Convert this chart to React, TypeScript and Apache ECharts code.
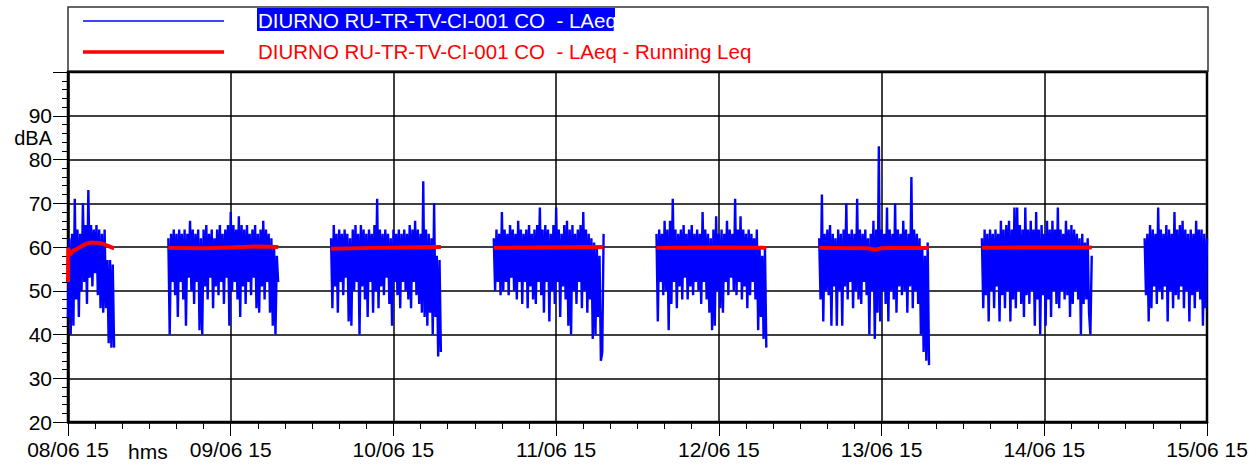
import React, { useEffect, useRef } from "react";
import * as echarts from "echarts";

// ---- Data (hours from 08/06 15 label; sample step 0.2 h) ----
const dayLabels = ["08/06 15", "09/06 15", "10/06 15", "11/06 15", "12/06 15", "13/06 15", "14/06 15", "15/06 15"];
const yTicks = [20, 30, 40, 50, 60, 70, 80, 90];
const sampleStepH = 0.2;
const segStarts = [0, 14.8, 38.8, 62.8, 86.8, 110.8, 134.8, 158.8];

const laeqDay1 = [44, 62, 40, 63, 42, 71, 48, 64, 44, 63, 50, 70, 52, 65, 47, 73, 53, 65, 51, 64, 54, 65, 49, 64, 46, 63, 45, 64, 46, 57, 38, 57, 37, 56, 37];
const laeqDay2 = [62, 40, 63, 52, 64, 49, 63, 44, 64, 52, 63, 48, 64, 42, 63, 53, 66, 50, 64, 47, 63, 52, 64, 41, 62, 40, 64, 51, 65, 48, 63, 53, 64, 46, 62, 51, 64, 49, 65, 52, 63, 47, 64, 53, 65, 42, 68, 50, 65, 52, 64, 48, 67, 44, 65, 51, 64, 47, 65, 52, 63, 49, 64, 53, 65, 46, 63, 45, 64, 51, 66, 48, 64, 52, 63, 45, 62, 42, 60, 40, 58, 52];
const laeqDay3 = [62, 46, 65, 51, 63, 45, 64, 52, 63, 49, 64, 53, 63, 43, 62, 42, 64, 50, 65, 52, 63, 40, 65, 51, 64, 48, 63, 44, 64, 52, 63, 45, 65, 50, 71, 46, 64, 51, 63, 49, 64, 53, 63, 47, 62, 42, 64, 52, 63, 49, 64, 46, 63, 52, 64, 50, 63, 48, 65, 46, 64, 52, 66, 49, 64, 47, 63, 45, 75, 44, 64, 42, 63, 45, 62, 40, 70, 44, 58, 35, 57, 36];
const laeqDay4 = [62, 50, 64, 52, 63, 49, 68, 50, 64, 52, 63, 49, 65, 53, 64, 50, 63, 48, 66, 52, 64, 47, 63, 52, 64, 46, 65, 51, 63, 48, 64, 47, 65, 52, 69, 49, 64, 45, 65, 52, 64, 43, 63, 50, 65, 47, 69, 52, 64, 44, 63, 51, 65, 48, 66, 42, 64, 40, 65, 50, 63, 47, 64, 52, 65, 46, 68, 50, 64, 45, 63, 48, 62, 39, 61, 40, 60, 44, 58, 34, 36, 63];
const laeqDay5 = [63, 43, 64, 52, 63, 49, 66, 50, 64, 41, 66, 47, 71, 52, 64, 46, 63, 51, 64, 48, 65, 53, 63, 48, 64, 51, 65, 49, 63, 52, 64, 50, 63, 47, 68, 52, 64, 48, 63, 45, 62, 41, 64, 42, 67, 50, 63, 46, 64, 45, 63, 52, 66, 49, 64, 53, 63, 50, 71, 49, 64, 52, 67, 48, 64, 51, 63, 46, 64, 49, 63, 52, 62, 48, 64, 41, 60, 44, 58, 39, 60, 37];
const laeqDay6 = [62, 48, 72, 43, 63, 50, 64, 49, 65, 42, 63, 51, 62, 42, 64, 50, 63, 42, 64, 51, 70, 48, 63, 52, 64, 46, 63, 50, 71, 48, 64, 47, 63, 52, 64, 49, 62, 40, 63, 50, 66, 39, 64, 45, 83, 43, 64, 50, 63, 47, 69, 43, 64, 50, 63, 48, 70, 45, 64, 51, 63, 49, 66, 50, 64, 45, 63, 51, 76, 46, 64, 50, 63, 47, 62, 40, 60, 36, 58, 34, 61, 33];
const laeqDay7 = [62, 46, 64, 49, 63, 43, 64, 50, 63, 46, 64, 51, 63, 43, 66, 49, 64, 46, 65, 50, 66, 43, 64, 48, 69, 46, 69, 50, 65, 47, 64, 44, 69, 49, 64, 47, 66, 50, 64, 42, 68, 48, 64, 40, 65, 49, 63, 42, 66, 48, 64, 44, 66, 50, 64, 47, 69, 46, 64, 50, 63, 48, 66, 49, 64, 44, 65, 47, 64, 50, 63, 48, 62, 40, 63, 47, 61, 48, 62, 45, 40, 58];
const laeqDay8 = [62, 49, 63, 43, 65, 46, 64, 51, 63, 47, 69, 50, 64, 48, 63, 51, 65, 43, 64, 50, 63, 46, 68, 49, 64, 48, 65, 51, 66, 46, 64, 50, 63, 43, 64, 49, 63, 46, 66, 50, 64, 48, 64, 42, 63, 46, 62];
const laeqDays = [laeqDay1, laeqDay2, laeqDay3, laeqDay4, laeqDay5, laeqDay6, laeqDay7, laeqDay8];

const runTimes1 = [0, 0.05, 0.3, 0.8, 1.3, 2.0, 2.7, 3.2, 4.2, 5.0, 5.8, 6.8];
const runVals1 = [52, 59.8, 58.2, 59.2, 59.5, 60.2, 60.7, 61.0, 61.0, 60.8, 60.3, 59.7];
const runTimes2 = [14.8, 20, 24, 28, 31.0];
const runVals2 = [59.8, 59.7, 59.9, 60.1, 60.0];
const runTimes3 = [38.8, 45, 50, 55.0];
const runVals3 = [59.6, 59.8, 59.9, 60.0];
const runTimes4 = [62.8, 70, 79.0];
const runVals4 = [59.8, 59.9, 60.0];
const runTimes5 = [86.8, 95, 103.0];
const runVals5 = [59.8, 59.9, 59.8];
const runTimes6 = [110.8, 118, 119, 120, 121, 127.0];
const runVals6 = [59.8, 59.7, 59.4, 59.7, 59.8, 59.8];
const runTimes7 = [134.8, 143, 151.0];
const runVals7 = [59.8, 59.9, 59.9];
const runTimes = [runTimes1, runTimes2, runTimes3, runTimes4, runTimes5, runTimes6, runTimes7];
const runVals = [runVals1, runVals2, runVals3, runVals4, runVals5, runVals6, runVals7];

const legendName1 = "DIURNO RU-TR-TV-CI-001 CO  - LAeq";
const legendName2 = "DIURNO RU-TR-TV-CI-001 CO  - LAeq - Running Leq";

const FONT = "'Liberation Sans', Arial, sans-serif";

export default function App() {
  const ref = useRef<HTMLDivElement>(null);

  useEffect(() => {
    document.body.style.margin = "0";
    if (!ref.current) return;
    const chart = echarts.init(ref.current, null, { renderer: "svg" });

    const blueSeries = laeqDays.map((vals, d) => ({
      type: "line",
      name: legendName1,
      data: vals.map((v, i) => [segStarts[d] + i * sampleStepH, v]),
      showSymbol: false,
      symbol: "none",
      lineStyle: { color: "#0000ff", width: 2.4, join: "bevel" },
      z: 2,
    }));
    const redSeries = runTimes.map((ts, d) => ({
      type: "line",
      name: legendName2,
      data: ts.map((t, i) => [t, runVals[d][i]]),
      showSymbol: false,
      symbol: "none",
      lineStyle: { color: "#ff0000", width: 4 },
      z: 3,
    }));

    chart.setOption({
      animation: false,
      backgroundColor: "#ffffff",
      textStyle: { fontFamily: FONT },
      grid: {
        left: 68,
        right: 53,
        top: 72,
        bottom: 46,
        show: true,
        borderColor: "#000",
        borderWidth: 2.5,
        containLabel: false,
        outerBoundsMode: "none",
      },
      xAxis: {
        type: "value",
        min: 0,
        max: 168,
        interval: 24,
        axisLine: { show: true, onZero: false, lineStyle: { color: "#000", width: 2.5 } },
        axisTick: { show: true, length: 14, lineStyle: { color: "#000", width: 1 } },
        minorTick: { show: true, splitNumber: 6, length: 7, lineStyle: { color: "#000", width: 1 } },
        axisLabel: {
          color: "#000",
          fontSize: 21,
          fontFamily: FONT,
          margin: 17,
          formatter: (v: number) => dayLabels[Math.round(v / 24)] ?? "",
        },
        splitLine: { show: true, lineStyle: { color: "#000", width: 1.5 } },
      },
      yAxis: {
        type: "value",
        min: 20,
        max: 100,
        interval: 10,
        axisLine: { show: true, lineStyle: { color: "#000", width: 2.5 } },
        axisTick: { show: true, length: 15, lineStyle: { color: "#000", width: 1 } },
        minorTick: { show: true, splitNumber: 5, length: 6, lineStyle: { color: "#000", width: 1 } },
        axisLabel: {
          color: "#000",
          fontSize: 21,
          fontFamily: FONT,
          margin: 16,
          formatter: (v: number) => (yTicks.includes(v) ? String(v) : ""),
        },
        splitLine: { show: true, lineStyle: { color: "#000", width: 1.5 } },
      },
      graphic: [
        {
          type: "rect",
          shape: { x: 68, y: 7, width: 1140, height: 64 },
          style: { fill: "#fff", stroke: "#333", lineWidth: 1.5 },
        },
        {
          type: "line",
          shape: { x1: 83, y1: 21, x2: 224, y2: 21 },
          style: { stroke: "#0000ff", lineWidth: 1.5 },
        },
        {
          type: "rect",
          shape: { x: 257, y: 8, width: 358, height: 23 },
          style: { fill: "#0000ff" },
        },
        {
          type: "text",
          x: 258,
          y: 20,
          style: { text: legendName1, fill: "#fff", fontSize: 20.5, fontFamily: FONT, verticalAlign: "middle", align: "left" },
        },
        {
          type: "line",
          shape: { x1: 83, y1: 52, x2: 224, y2: 52 },
          style: { stroke: "#ff0000", lineWidth: 3.5 },
        },
        {
          type: "text",
          x: 258,
          y: 51,
          style: { text: legendName2, fill: "#ff0000", fontSize: 20.5, fontFamily: FONT, verticalAlign: "middle", align: "left" },
        },
        {
          type: "text",
          x: 52,
          y: 138,
          style: { text: "dBA", fill: "#000", fontSize: 20, lineHeight: 18, fontFamily: FONT, verticalAlign: "middle", align: "right" },
        },
        {
          type: "text",
          x: 128,
          y: 451,
          style: { text: "hms", fill: "#000", fontSize: 21, fontFamily: FONT, verticalAlign: "middle", align: "left" },
        },
      ],
      series: [...blueSeries, ...redSeries],
    });

    return () => chart.dispose();
  }, []);

  return <div ref={ref} style={{ width: 1260, height: 468 }} />;
}
